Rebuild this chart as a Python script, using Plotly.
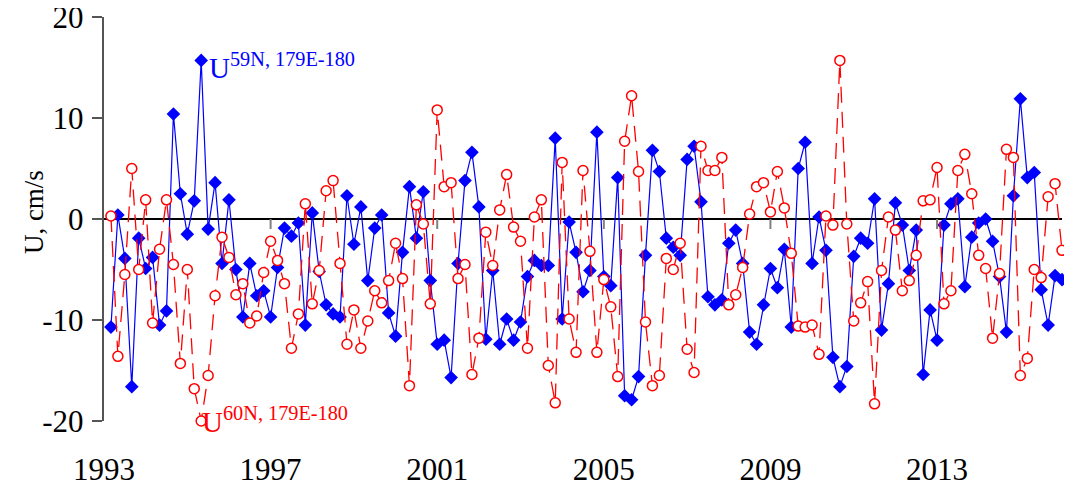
import plotly.graph_objects as go

# Bimonthly series, Feb 1993 .. Dec 2015 (138 values each)
start_year = 1993
steps_per_year = 6

u_59n = [
    -10.7, 0.4, -3.9, -16.6, -1.9, -4.9, -3.8, -10.5, -9.1, 10.4,
    2.5, -1.5, 1.8, 15.7, -1.0, 3.6, -4.4, 1.9, -5.0, -9.7,
    -4.4, -7.6, -7.1, -9.7, -4.8, -0.9, -1.7, -0.4, -10.5, 0.6,
    -5.2, -8.5, -9.4, -9.7, 2.3, -2.5, 1.2, -6.1, -0.9, 0.4,
    -9.3, -11.6, -3.3, 3.2, -1.9, 2.7, -6.1, -12.4, -12.0, -15.7,
    -4.4, 3.8, 6.6, 1.2, -11.9, -5.1, -12.4, -9.9, -12.0, -10.2,
    -5.7, -4.1, -4.6, -4.6, 8.0, -9.9, -0.3, -3.3, -7.2, -5.1,
    8.6, -5.7, -6.6, 4.1, -17.5, -17.9, -15.6, -3.6, 6.8, 4.7,
    -1.9, -2.8, -3.6, 5.9, 7.2, 1.7, -7.7, -8.5, -8.0, -2.4,
    -1.1, -4.4, -11.2, -12.4, -8.5, -4.9, -6.8, -3.0, -10.7, 5.0,
    7.6, -4.4, 0.2, -3.1, -13.7, -16.6, -14.6, -3.7, -1.9, -2.4,
    2.0, -11.0, -6.4, 1.6, -0.6, -5.1, -1.1, -15.4, -9.0, -12.0,
    -0.6, 1.5, 2.0, -6.7, -1.8, -0.4, 0.0, -2.2, -5.7, -11.2,
    2.3, 11.9, 4.1, 4.6, -7.0, -10.5, -5.6, -6.0,
]

u_60n = [
    0.3, -13.6, -5.5, 5.0, -5.0, 1.9, -10.3, -3.0, 1.9, -4.5,
    -14.3, -5.0, -16.8, -20.0, -15.5, -7.6, -1.8, -3.8, -7.5, -6.4,
    -10.3, -9.6, -5.3, -2.2, -4.1, -6.4, -12.8, -9.4, 1.5, -8.4,
    -5.1, 2.8, 3.8, -4.4, -12.4, -9.0, -12.8, -10.1, -7.1, -8.3,
    -6.1, -2.4, -5.9, -16.5, 1.4, -0.5, -8.4, 10.8, 3.2, 3.6,
    -5.9, -4.5, -15.4, -11.8, -1.3, -4.6, 0.9, 4.4, -0.8, -2.2,
    -12.8, 0.2, 1.9, -14.5, -18.2, 5.6, -9.9, -13.2, 4.8, -3.2,
    -13.2, -6.0, -8.7, -15.6, 7.7, 12.2, 4.7, -10.2, -16.5, -15.5,
    -3.9, -5.0, -2.4, -12.9, -15.2, 7.2, 4.8, 4.8, 6.1, -8.5,
    -7.5, -4.8, 0.5, 3.2, 3.6, 0.7, 4.7, 1.1, -3.4, -10.6,
    -10.7, -10.5, -13.4, 0.3, -0.6, 15.7, -0.5, -10.1, -8.3, -6.2,
    -18.3, -5.1, 0.2, -1.1, -7.1, -6.1, -3.6, 1.8, 1.9, 5.1,
    -8.4, -7.1, 4.8, 6.4, 2.5, -3.6, -4.9, -11.8, -5.4, 6.9,
    6.1, -15.5, -13.8, -5.0, -5.8, 2.2, 3.5, -3.1,
]

years = [start_year + (i + 1) / steps_per_year for i in range(len(u_59n))]

x_tick_years = [1993, 1997, 2001, 2005, 2009, 2013]
y_tick_vals = [-20, -10, 0, 10, 20]
y_tick_text = ["-20", "-10", "0", "10", "20"]

label_59n = "U<sup>59N, 179E-180</sup>"
label_60n = "U<sup>60N, 179E-180</sup>"
y_title = "U, cm/s"

SERIF = "Liberation Serif, Times New Roman, serif"
HAIR = "\u200a"

fig = go.Figure()
fig.add_trace(go.Scatter(
    x=years, y=u_59n, mode="lines+markers",
    line=dict(color="#0000ff", width=1.2),
    marker=dict(symbol="diamond", size=10.5, color="#0000ff", line=dict(width=0)),
    cliponaxis=False, showlegend=False,
))
fig.add_trace(go.Scatter(
    x=years, y=u_60n, mode="lines+markers",
    line=dict(color="#ff0000", width=1.3, dash="16px,9px"),
    marker=dict(symbol="circle", size=10, color="white",
                line=dict(color="#ff0000", width=1.5)),
    cliponaxis=False, showlegend=False,
))

# small grey ticks hanging from the zero line
shapes = []
for yr in x_tick_years[1:]:
    shapes.append(dict(type="line", xref="x", yref="y", ysizemode="pixel",
                       yanchor=0, x0=yr, x1=yr, y0=0, y1=-10,
                       line=dict(color="#808080", width=2)))

annotations = [
    dict(text=label_59n, x=1995.47, y=15.1, xref="x", yref="y",
         xanchor="left", yanchor="middle", showarrow=False,
         font=dict(family=SERIF, size=29, color="#0000ff")),
    dict(text=label_60n, x=1995.30, y=0.003, xref="x", yref="paper",
         xanchor="left", yanchor="middle", showarrow=False,
         font=dict(family=SERIF, size=29, color="#ff0000")),
    dict(text=y_title, x=-0.0735, y=0.516, xref="paper", yref="paper",
         textangle=-90, showarrow=False, xanchor="center", yanchor="middle",
         font=dict(family=SERIF, size=27, color="black")),
]

# page body has an 8px default margin, so the figure is 8px smaller each way
fig.update_layout(
    width=1064, height=482,
    margin=dict(l=96, r=10, t=9, b=69, autoexpand=False),
    paper_bgcolor="white", plot_bgcolor="white",
    font=dict(family=SERIF, color="black"),
    shapes=shapes, annotations=annotations,
    xaxis=dict(range=[1993, 2016], tickvals=x_tick_years,
               ticktext=[str(v) for v in x_tick_years],
               showgrid=False, zeroline=False, showline=False,
               automargin=False,
               ticks="outside", ticklen=21, tickcolor="rgba(0,0,0,0)",
               tickfont=dict(family=SERIF, size=31, color="black")),
    yaxis=dict(range=[-20, 20], tickvals=y_tick_vals,
               ticktext=[t + HAIR for t in y_tick_text],
               showgrid=False, zeroline=True, zerolinecolor="black",
               zerolinewidth=1.5, showline=True, linecolor="#555555",
               automargin=False, ticklabeloverflow="allow",
               linewidth=1.5, ticks="outside", ticklen=10, tickwidth=1.5,
               tickcolor="#555555",
               tickfont=dict(family=SERIF, size=31, color="black")),
)

fig.write_html("out.html")
